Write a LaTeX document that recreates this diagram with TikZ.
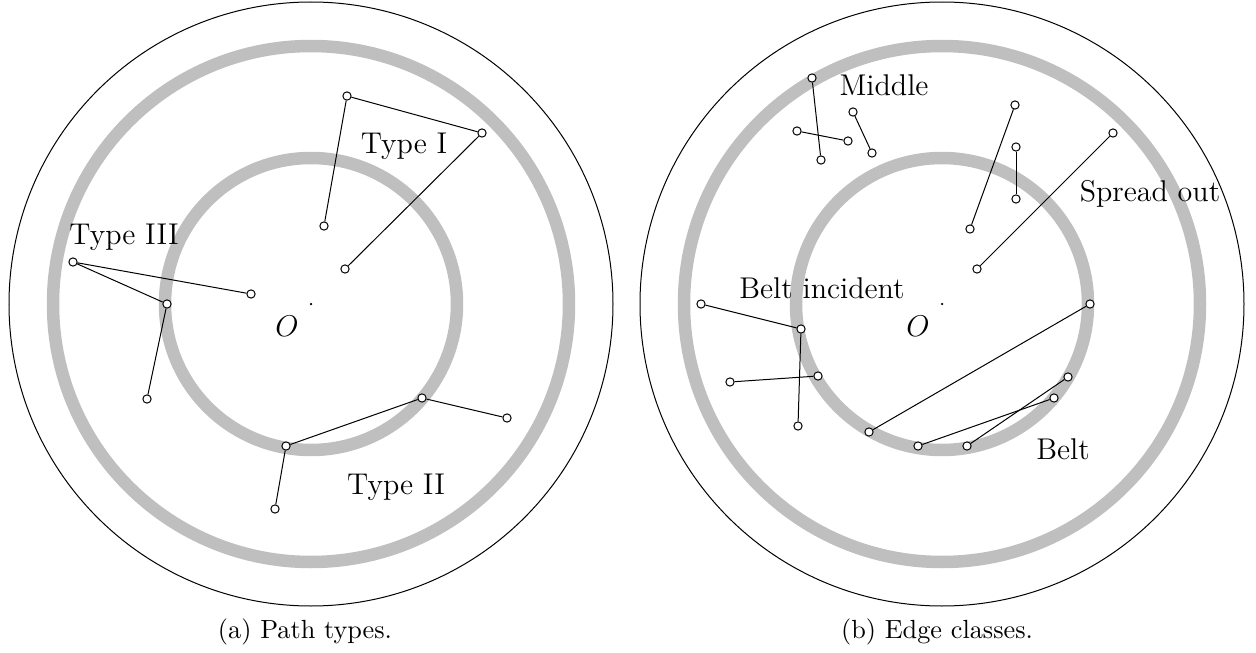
\documentclass[tikz,border=0pt]{standalone}

\begin{document}
\begin{tikzpicture}[x=0.4pt,y=-0.4pt,
    vtx/.style={circle,draw,thin,fill=white,inner sep=0pt,minimum size=3.3pt},
    beltring/.style={draw=gray!50,line width=5pt},
    lbl/.style={font=\large,inner sep=0pt},
    captext/.style={font=\fontsize{10.5}{12}\selectfont,inner sep=0pt}]
    \useasboundingbox (0,0) rectangle (1256,653);

    % left: path types
    \coordinate (OL) at (311,304);
    \draw [thin] (OL) circle (302);
    \draw [beltring] (OL) circle (258);
    \draw [beltring] (OL) circle (146);
    \fill (OL) circle (0.5pt);
    \node [lbl] at (287,326) {$O$};

    \node [vtx] (TypeIa) at (347,96) {};
    \node [vtx] (TypeIb) at (482,133) {};
    \node [vtx] (TypeIc) at (324,226) {};
    \node [vtx] (TypeId) at (345,269) {};
    \draw (TypeIc) -- (TypeIa) -- (TypeIb) -- (TypeId);
    \node [lbl] at (404,146) {Type I};

    \node [vtx] (TypeIIIa) at (73,262) {};
    \node [vtx] (TypeIIIb) at (251,294) {};
    \node [vtx] (TypeIIIc) at (167,304) {};
    \node [vtx] (TypeIIId) at (147,399) {};
    \draw (TypeIIIb) -- (TypeIIIa) -- (TypeIIIc) -- (TypeIIId);
    \node [lbl] at (124,237) {Type III};

    \node [vtx] (TypeIIa) at (422,398) {};
    \node [vtx] (TypeIIb) at (507,418) {};
    \node [vtx] (TypeIIc) at (286,446) {};
    \node [vtx] (TypeIId) at (275,509) {};
    \draw (TypeIId) -- (TypeIIc) -- (TypeIIa) -- (TypeIIb);
    \node [lbl] at (396,487) {Type II};

    \node [captext] at (305,632) {(a) Path types.};

    % right: edge classes
    \coordinate (OR) at (942,304);
    \draw [thin] (OR) circle (302);
    \draw [beltring] (OR) circle (258);
    \draw [beltring] (OR) circle (146);
    \fill (OR) circle (0.5pt);
    \node [lbl] at (918,326) {$O$};

    %middle
    \node [vtx] (Middlea) at (812,78) {};
    \node [vtx] (Middleb) at (821,160) {};
    \node [vtx] (Middlec) at (797,131) {};
    \node [vtx] (Middled) at (848,141) {};
    \node [vtx] (Middlee) at (853,112) {};
    \node [vtx] (Middlef) at (872,153) {};
    \draw (Middlea) -- (Middleb);
    \draw (Middlec) -- (Middled);
    \draw (Middlee) -- (Middlef);
    \node [lbl] at (884,85) {Middle};

    %spread out
    \node [vtx] (Spreada) at (1015,105) {};
    \node [vtx] (Spreadb) at (970,229) {};
    \node [vtx] (Spreadc) at (1016,147) {};
    \node [vtx] (Spreadd) at (1016,199) {};
    \node [vtx] (Spreade) at (1113,133) {};
    \node [vtx] (Spreadf) at (977,269) {};
    \draw (Spreada) -- (Spreadb);
    \draw (Spreadc) -- (Spreadd);
    \draw (Spreade) -- (Spreadf);
    \node [lbl] at (1150,194) {Spread out};

    %belt incident
    \node [vtx] (Incidenta) at (701,304) {};
    \node [vtx] (Incidentb) at (801,329) {};
    \node [vtx] (Incidentc) at (730,382) {};
    \node [vtx] (Incidentd) at (818,376) {};
    \node [vtx] (Incidente) at (798,426) {};
    \draw (Incidenta) -- (Incidentb) -- (Incidente);
    \draw (Incidentc) -- (Incidentd);
    \node [lbl] at (822,288) {Belt incident};

    %belt
    \node [vtx] (Belta) at (1090,304) {};
    \node [vtx] (Beltb) at (869,432) {};
    \node [vtx] (Beltc) at (1068,377) {};
    \node [vtx] (Beltd) at (1054,398) {};
    \node [vtx] (Belte) at (918,446) {};
    \node [vtx] (Beltf) at (967,446) {};
    \draw (Belta) -- (Beltb);
    \draw (Belte) -- (Beltd);
    \draw (Beltf) -- (Beltc);
    \node [lbl] at (1063,449) {Belt};

    \node [captext] at (937,632) {(b) Edge classes.};

\end{tikzpicture}
\end{document}
